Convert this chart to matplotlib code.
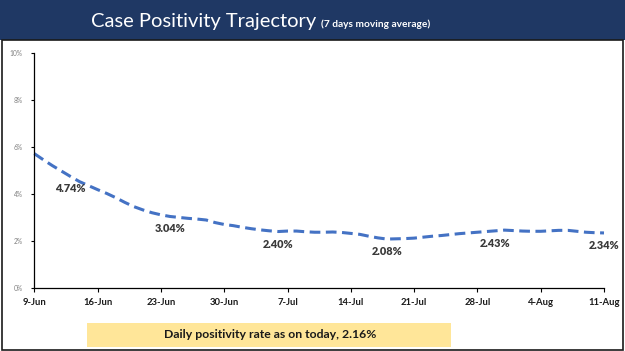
import matplotlib
matplotlib.use("Agg")
import matplotlib.pyplot as plt
from matplotlib.patches import Rectangle

# daily 7-day moving average positivity (%), 9-Jun .. 11-Aug
days = list(range(64))
positivity = [
    5.71, 5.45, 5.20, 4.97, 4.74, 4.52, 4.35, 4.18, 4.02, 3.84,
    3.64, 3.46, 3.32, 3.20, 3.11, 3.04, 3.00, 2.96, 2.93, 2.89,
    2.78, 2.70, 2.65, 2.58, 2.52, 2.47, 2.43, 2.40, 2.42, 2.42,
    2.39, 2.37, 2.37, 2.38, 2.36, 2.32, 2.28, 2.20, 2.13, 2.08,
    2.09, 2.10, 2.12, 2.16, 2.20, 2.23, 2.27, 2.31, 2.34, 2.37,
    2.40, 2.43, 2.46, 2.44, 2.42, 2.41, 2.41, 2.43, 2.45, 2.45,
    2.41, 2.37, 2.35, 2.34,
]
label_days = [4, 15, 27, 39, 51, 63]
tick_days = [0, 7, 14, 21, 28, 35, 42, 49, 56, 63]
tick_labels = ["9-Jun", "16-Jun", "23-Jun", "30-Jun", "7-Jul",
               "14-Jul", "21-Jul", "28-Jul", "4-Aug", "11-Aug"]
y_ticks = [0, 2, 4, 6, 8, 10]

plt.rcParams["font.family"] = ["Lato", "DejaVu Sans"]

fig = plt.figure(figsize=(6.25, 3.51), dpi=100)

# header band and panel frame
fig.patches.append(Rectangle((0, 1 - 40 / 351), 1, 40 / 351, transform=fig.transFigure,
                             facecolor="#1F3864", edgecolor="none", zorder=0))
fig.patches.append(Rectangle((0.003, 0.003), 0.994, 1 - 40 / 351 - 0.003,
                             transform=fig.transFigure, facecolor="white",
                             edgecolor="#1a1a1a", linewidth=1.2, zorder=0))

fig.text(316 / 625, 1 - 22 / 351, "Case Positivity Trajectory", color="white",
         fontsize=14.5, ha="right", va="center")
fig.text(321 / 625, 1 - 24 / 351, "(7 days moving average)", color="white",
         fontsize=7.3, fontweight="bold", ha="left", va="center")

ax = fig.add_axes([34.3 / 625, 1 - 288 / 351, (604 - 34.3) / 625, (288 - 52.7) / 351])
ax.set_zorder(3)
ax.plot(days, positivity, color="#4472C4", linewidth=2.2, linestyle=(0, (3.5, 1.8)),
        clip_on=False)

for d in label_days:
    ax.annotate(f"{positivity[d]:.2f}%", (d, positivity[d]), xytext=(0, -9),
                textcoords="offset points", ha="center", va="center",
                fontsize=7.8, fontweight="heavy", color="#3a3a3a",
                annotation_clip=False)

ax.set_xlim(0, 63)
ax.set_ylim(0, 10)
ax.set_xticks(tick_days)
ax.set_xticklabels(tick_labels, fontsize=6.8, fontweight="bold", color="#1a1a1a")
ax.set_yticks(y_ticks)
ax.set_yticklabels([f"{v}%" for v in y_ticks], fontsize=4.8, color="#808080")
ax.tick_params(axis="x", length=3, width=0.8, pad=4)
ax.tick_params(axis="y", length=2.5, width=0.8, pad=6)
ax.spines["top"].set_visible(False)
ax.spines["right"].set_visible(False)
ax.spines["left"].set_linewidth(0.9)
ax.spines["bottom"].set_linewidth(0.9)
ax.set_facecolor("none")

# highlighted note box
fig.patches.append(Rectangle((87 / 625, 1 - 346.7 / 351), (451 - 87) / 625, 24 / 351,
                             transform=fig.transFigure, facecolor="#FFE699",
                             edgecolor="none", zorder=1))
fig.text(270 / 625, 1 - 335 / 351, "Daily positivity rate as on today, 2.16%",
         fontsize=8.8, fontweight="bold", color="#1a1a1a", ha="center", va="center")

fig.savefig("out.png", dpi=100)
